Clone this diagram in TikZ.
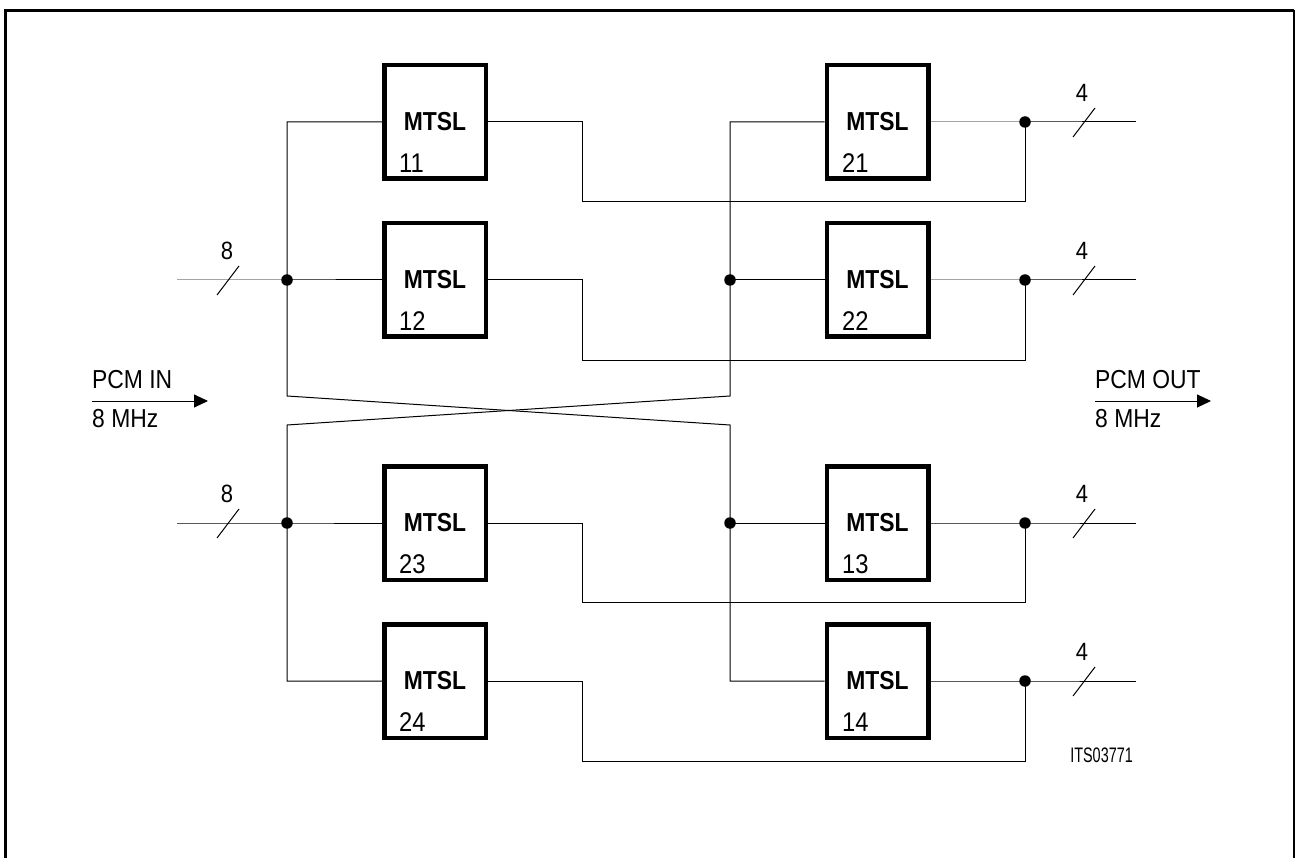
\documentclass[tikz,border=0pt]{standalone}
\usepackage{fontspec}
\setmainfont[FakeStretch=0.88]{Liberation Sans}
\usetikzlibrary{arrows.meta}
\begin{document}
\begin{tikzpicture}[x=1pt,y=-1pt,
  wire/.style={line width=1pt},
  mtsl/.style={draw, line width=4.5pt, minimum width=101.5pt, minimum height=113.5pt,
    inner sep=0pt, font=\fontsize{26}{30}\selectfont\bfseries},
  dotj/.style={circle, fill, inner sep=0pt, minimum size=11.5pt},
  num/.style={font=\fontsize{27}{31}\selectfont, anchor=west, inner sep=0pt},
  lab/.style={font=\fontsize{25}{29}\selectfont, inner sep=0pt},
  sig/.style={font=\fontsize{26}{30}\selectfont, anchor=west, inner sep=0pt},
  arr/.style={line width=1pt, -{Triangle[length=14pt,width=13pt]}}
]
\useasboundingbox (0,0) rectangle (1295,858);
% frame
\draw[line width=3pt] (5.5,858) -- (5.5,10.5) -- (1294,10.5);
\draw[line width=1.5pt] (1294,10.5) -- (1294,858);

% boxes
\node[mtsl] (b11) at (435,122) {MTSL};
\node[mtsl] (b12) at (435,280) {MTSL};
\node[mtsl] (b23) at (435,523) {MTSL};
\node[mtsl] (b24) at (435,681) {MTSL};
\node[mtsl] (b21) at (877.5,122) {MTSL};
\node[mtsl] (b22) at (877.5,280) {MTSL};
\node[mtsl] (b13) at (877.5,523) {MTSL};
\node[mtsl] (b14) at (877.5,681) {MTSL};
% numbers
\node[num] (n11) at (399,163) {11};
\node[num] (n12) at (399,321) {12};
\node[num] (n23) at (399,564) {23};
\node[num] (n24) at (399,722) {24};
\node[num] (n21) at (842,163) {21};
\node[num] (n22) at (842,321) {22};
\node[num] (n13) at (842,564) {13};
\node[num] (n14) at (842,722) {14};

% junction coordinates
\coordinate (in1) at (177,280);
\coordinate (in2) at (177,523);
\node[dotj] (jL1) at (287,280) {};
\node[dotj] (jL2) at (287,523) {};
\node[dotj] (jR1) at (730,280) {};
\node[dotj] (jR2) at (730,523) {};
\node[dotj] (d1) at (1025,122) {};
\node[dotj] (d2) at (1025,280) {};
\node[dotj] (d3) at (1025,523) {};
\node[dotj] (d4) at (1025,681) {};
\coordinate (o1) at (1136,122);
\coordinate (o2) at (1136,280);
\coordinate (o3) at (1136,523);
\coordinate (o4) at (1136,681);

% inputs
\draw[wire] (in1) -- (jL1.center) -- (b12.west);
\draw[wire] (in2) -- (jL2.center) -- (b23.west);
% distribution with crossing
\draw[wire] (b11.west) -| (287,396) -- (730,425) |- (b14.west);
\draw[wire] (b21.west) -| (730,396) -- (287,425) |- (b24.west);
\draw[wire] (jR1.center) -- (b22.west);
\draw[wire] (jR2.center) -- (b13.west);

% outputs and returns
\draw[wire] (b21.east) -- (d1.center) -- (o1);
\draw[wire] (b22.east) -- (d2.center) -- (o2);
\draw[wire] (b13.east) -- (d3.center) -- (o3);
\draw[wire] (b14.east) -- (d4.center) -- (o4);
\draw[wire] (b11.east) -- (582,122) -- (582,202) -| (d1.center);
\draw[wire] (b12.east) -- (582,280) -- (582,360) -| (d2.center);
\draw[wire] (b23.east) -- (582,523) -- (582,602) -| (d3.center);
\draw[wire] (b24.east) -- (582,681) -- (582,761) -| (d4.center);

% bus slashes and widths
\draw[wire] (217,295) -- (239,266);
\draw[wire] (217,538) -- (239,509);
\node[lab] (w1) at (227,251) {8};
\node[lab] (w2) at (227,494) {8};
\draw[wire] (1073,137) -- (1095,108);
\draw[wire] (1073,295) -- (1095,266);
\draw[wire] (1073,538) -- (1095,509);
\draw[wire] (1073,696) -- (1095,667);
\node[lab] (w3) at (1082,93) {4};
\node[lab] (w4) at (1082,251) {4};
\node[lab] (w5) at (1082,494) {4};
\node[lab] (w6) at (1082,652) {4};

% PCM in/out
\coordinate (ai) at (92,401);
\coordinate (aie) at (208,401);
\draw[arr] (ai) -- (aie);
\node[sig] (pin) at (92,380) {PCM IN};
\node[sig] (fin) at (92,419) {8 MHz};
\coordinate (ao) at (1095,401);
\coordinate (aoe) at (1211,401);
\draw[arr] (ao) -- (aoe);
\node[sig] (pout) at (1095,380) {PCM OUT};
\node[sig] (fout) at (1095,419) {8 MHz};

% reference label
\node[font=\fontsize{21}{25}\selectfont, anchor=east, inner sep=0pt] (its) at (1133,755) {\scalebox{0.78}[1]{ITS03771}};
\end{tikzpicture}
\end{document}
